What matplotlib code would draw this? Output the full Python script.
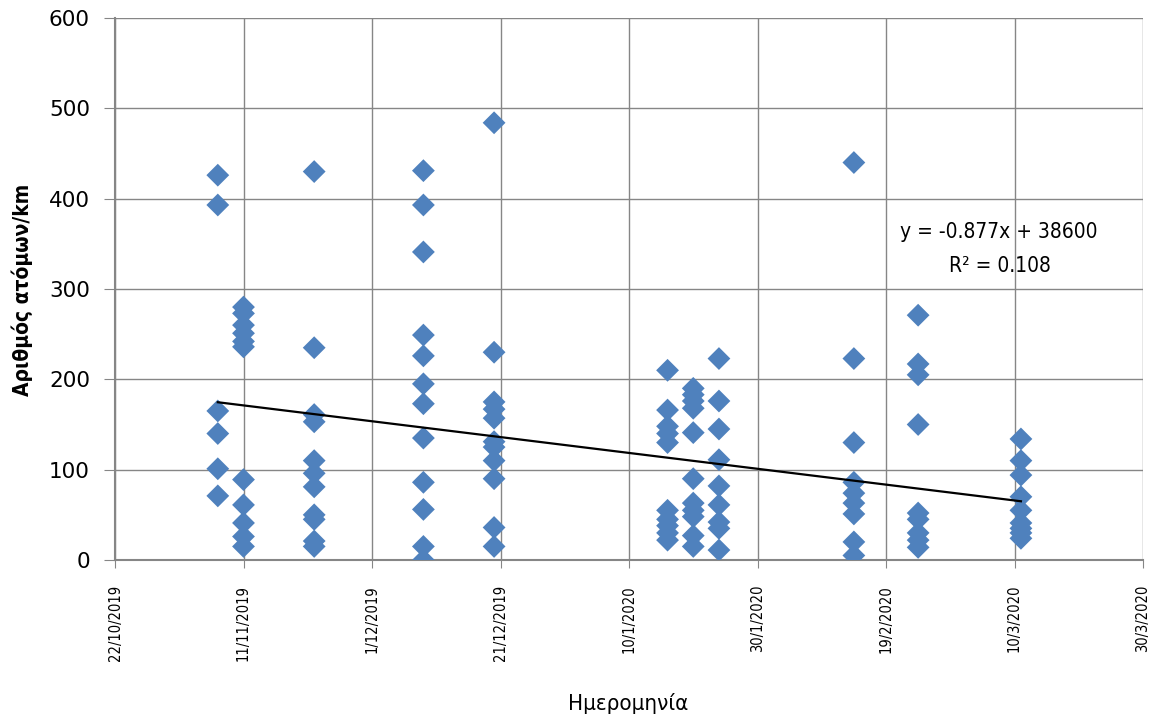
import datetime as dt
import numpy as np
import matplotlib
matplotlib.use("Agg")
import matplotlib.pyplot as plt
import matplotlib.dates as mdates
from matplotlib.ticker import FuncFormatter, FixedLocator
from matplotlib import font_manager

# ---- data ----
sample_dates = ["2019-11-07", "2019-11-11", "2019-11-22", "2019-12-09", "2019-12-20",
                "2020-01-16", "2020-01-20", "2020-01-24", "2020-02-14", "2020-02-24",
                "2020-03-11"]
values_0711 = [426, 393, 165, 140, 101, 71]
values_1111 = [280, 273, 260, 251, 242, 236, 89, 61, 41, 26, 15]
values_2211 = [430, 235, 161, 153, 110, 96, 81, 50, 45, 21, 15]
values_0912 = [431, 393, 341, 249, 226, 195, 173, 135, 86, 56, 15, 0]
values_2012 = [484, 230, 175, 167, 157, 131, 125, 110, 90, 36, 15]
values_1601 = [210, 166, 148, 140, 130, 55, 45, 38, 30, 22]
values_2001 = [190, 183, 176, 168, 141, 90, 63, 55, 48, 27, 15]
values_2401 = [223, 176, 145, 111, 82, 61, 42, 35, 11]
values_1402 = [440, 223, 130, 86, 74, 63, 51, 20, 5]
values_2402 = [271, 217, 205, 150, 52, 45, 30, 22, 14]
values_1103 = [134, 110, 94, 70, 55, 41, 35, 30, 24]
all_values = [values_0711, values_1111, values_2211, values_0912, values_2012,
              values_1601, values_2001, values_2401, values_1402, values_2402,
              values_1103]

# linear trendline (Excel, x = Excel serial day number)
trend_slope = -0.877
trend_intercept = 38566.2

tick_start = "2019-10-22"
tick_end = "2020-03-30"
tick_step_days = 20
y_ticks = [0, 100, 200, 300, 400, 500, 600]
equation_line1 = "y = -0.877x + 38600"
equation_line2 = "R\u00b2 = 0.108"
y_label = "Αριθμός ατόμων/km"
x_label = "Ημερομηνία"

# ---- fonts ----
avail = {f.name for f in font_manager.fontManager.ttflist}
narrow = ["Liberation Sans Narrow", "DejaVu Sans"] if "Liberation Sans Narrow" in avail else ["DejaVu Sans"]
narrow_stretch = "normal" if narrow[0] == "Liberation Sans Narrow" else "condensed"

# ---- build ----
xs, ys = [], []
for d, vals in zip(sample_dates, all_values):
    dn = mdates.date2num(dt.datetime.fromisoformat(d))
    xs.extend([dn] * len(vals))
    ys.extend(vals)
xs = np.array(xs)
ys = np.array(ys, dtype=float)

W, H = 1151, 719
fig = plt.figure(figsize=(W / 100, H / 100), dpi=100)
ax = fig.add_axes([115 / W, 1 - 560 / H, (1143 - 115) / W, (560 - 18) / H])

grid_col = "#868686"
ax.scatter(xs, ys, marker="D", s=135, color="#4F81BD", edgecolors="none", zorder=3)

excel_offset = mdates.date2num(dt.datetime(1970, 1, 1)) - mdates.date2num(dt.datetime(1899, 12, 30))
xl = np.array([xs.min(), xs.max()])
ax.plot(xl, trend_slope * (xl + excel_offset) + trend_intercept, color="black", lw=1.6, zorder=4)

x0 = mdates.date2num(dt.datetime.fromisoformat(tick_start))
x1 = mdates.date2num(dt.datetime.fromisoformat(tick_end))
ax.set_xlim(x0, x1)
ax.set_ylim(0, 600)
xt = np.arange(x0, x1 + 0.5, tick_step_days)
ax.xaxis.set_major_locator(FixedLocator(xt))

def fmt(v, pos):
    d = mdates.num2date(v)
    return f"{d.day}/{d.month}/{d.year}"
ax.xaxis.set_major_formatter(FuncFormatter(fmt))
ax.set_yticks(y_ticks)

ax.grid(True, color=grid_col, lw=1.0, zorder=0)
ax.set_axisbelow(True)
for s in ["top", "right"]:
    ax.spines[s].set_visible(False)
for s in ["left", "bottom"]:
    ax.spines[s].set_color(grid_col)
    ax.spines[s].set_linewidth(1.5)

ax.tick_params(axis="y", direction="out", length=8, color=grid_col, labelsize=15.5, pad=10)
ax.tick_params(axis="x", direction="out", length=6, color=grid_col, labelsize=10.5, pad=12,
               labelrotation=90)
for lab in ax.get_xticklabels():
    lab.set_fontfamily(narrow)
    lab.set_fontstretch(narrow_stretch)

def px_text(x, y, s, **kw):
    fig.text(x / W, 1 - y / H, s, ha="center", va="center",
             family=narrow, fontstretch=narrow_stretch, **kw)

px_text(22, 290, y_label, fontsize=15, fontweight="bold", rotation=90)
px_text(628, 703, x_label, fontsize=16)
px_text(999, 232, equation_line1, fontsize=15)
px_text(1000, 266, equation_line2, fontsize=15)

fig.savefig("out.png", dpi=100)
